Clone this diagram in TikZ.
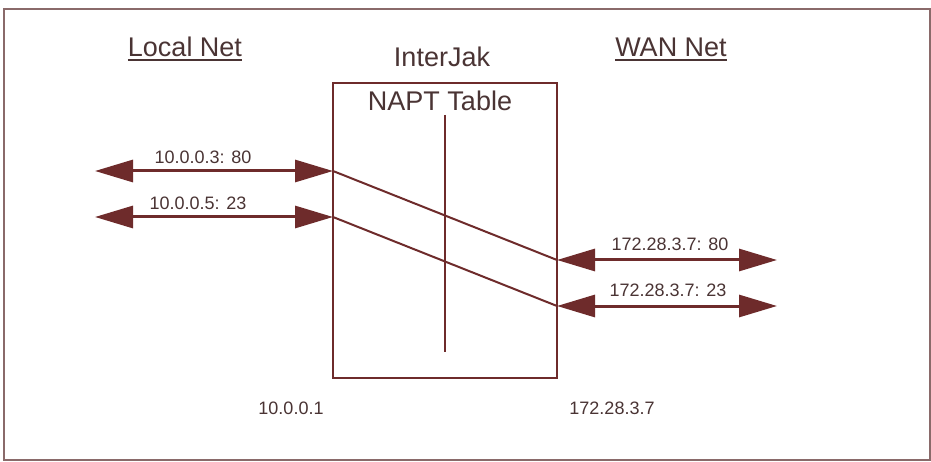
\documentclass[tikz,border=0pt]{standalone}
\usepackage{fontspec}
\setmainfont{Liberation Sans}
\usetikzlibrary{arrows.meta}
\definecolor{maroon}{HTML}{6E2B2B}
\definecolor{txt}{HTML}{4A3434}
\definecolor{framec}{HTML}{8A6A6A}
\tikzset{
  big/.style={font=\fontsize{27}{30}\selectfont, text=txt, inner sep=0pt},
  small/.style={font=\fontsize{18}{20}\selectfont, text=txt, inner sep=0pt},
  conn/.style={draw=maroon, line width=3pt, {Triangle[length=38pt,width=22pt]}-{Triangle[length=38pt,width=22pt]}},
  slant/.style={draw=maroon, line width=2pt},
  boxst/.style={draw=maroon, line width=2pt, minimum width=224pt, minimum height=295pt, inner sep=0pt},
  uline/.style={draw=txt, line width=2pt}
}
\begin{document}
\begin{tikzpicture}[x=1pt,y=-1pt]
\useasboundingbox (0,0) rectangle (931,462);
\fill[white] (0,0) rectangle (931,462);
\draw[framec, line width=1.5pt] (4,9) rectangle (930,460);

% box
\node[boxst] (box) at (445,230.5) {};
\coordinate (vtop) at (445,115);
\coordinate (vbot) at (445,352);
\draw[slant] (vtop) -- (vbot);

% titles
\node[big] (local) at (185,47) {Local Net};
\path (local.south west) ++(0,3) coordinate (lu1);
\path (local.south east) ++(0,3) coordinate (lu2);
\draw[uline] (lu1) -- (lu2);
\node[big] (wan) at (671,47) {WAN Net};
\path (wan.south west) ++(0,3) coordinate (wu1);
\path (wan.south east) ++(0,3) coordinate (wu2);
\draw[uline] (wu1) -- (wu2);
\node[big] (interjak) at (442,57) {InterJak};
\node[big] (napt) at (440,101) {NAPT Table};

% port coordinates
\coordinate (l1) at (333,171);
\coordinate (l2) at (333,217);
\coordinate (r1) at (557,260);
\coordinate (r2) at (557,306);
\coordinate (l1e) at (95,171);
\coordinate (l2e) at (95,217);
\coordinate (r1e) at (777,260);
\coordinate (r2e) at (777,306);

\draw[conn] (l1e) -- (l1);
\draw[conn] (l2e) -- (l2);
\draw[conn] (r1) -- (r1e);
\draw[conn] (r2) -- (r2e);
\draw[slant] (l1) -- (r1);
\draw[slant] (l2) -- (r2);

\node[small] (a1) at (203,157) {10.0.0.3: 80};
\node[small] (a2) at (198,203) {10.0.0.5: 23};
\node[small] (b1) at (670,244) {172.28.3.7: 80};
\node[small] (b2) at (668,290) {172.28.3.7: 23};
\node[small] (ipl) at (291,408) {10.0.0.1};
\node[small] (ipr) at (612,408) {172.28.3.7};
\end{tikzpicture}
\end{document}
